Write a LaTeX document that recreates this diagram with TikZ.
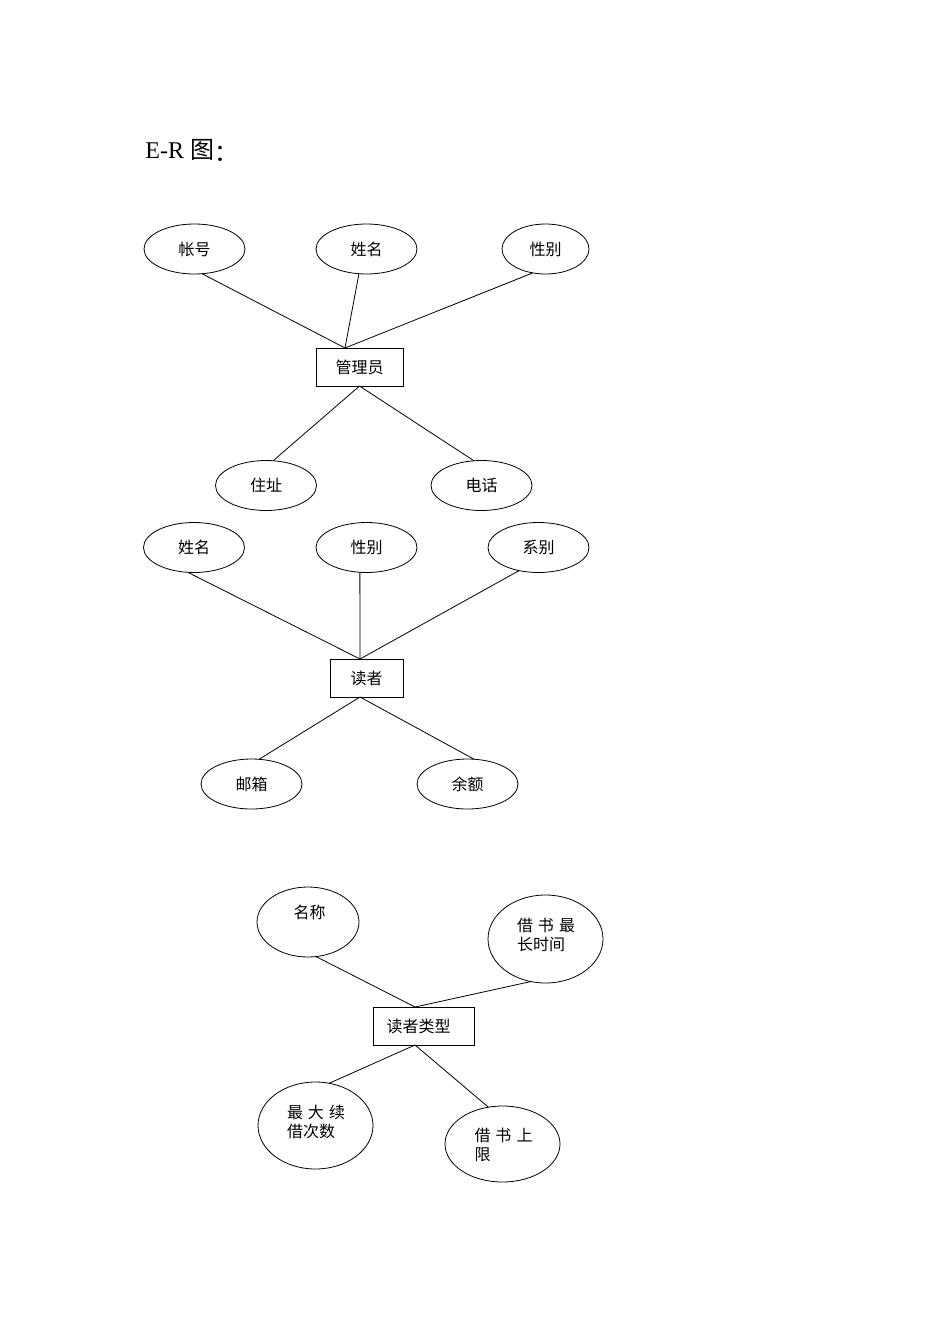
\documentclass[tikz,border=0pt]{standalone}
\usepackage{fontspec}
\setmainfont{Liberation Serif}
\newfontfamily\cjk{Noto Sans CJK SC}
\usetikzlibrary{shapes.geometric}
\begin{document}
\begin{tikzpicture}[x=1pt,y=-1pt,line width=0.8pt,
  cjkfont/.style={font=\cjk\fontsize{16}{19}\selectfont},
  attr/.style={ellipse,draw,inner sep=0pt,outer sep=0pt,cjkfont},
  smallattr/.style={attr,minimum width=101pt,minimum height=50pt},
  ent/.style={rectangle,draw,inner sep=0pt,outer sep=0pt,cjkfont,minimum height=38pt},
  txt/.style={inner sep=0pt,outer sep=0pt,cjkfont,align=left}]
\useasboundingbox (0,0) rectangle (950,1344);

% title
\node[anchor=base west,inner sep=0pt,font=\fontsize{24}{28}\selectfont] (title) at (145,158) {E-R {\cjk 图\raisebox{-3pt}{：}}};

% ---------- group 1 : 管理员 ----------
\node[smallattr] (g1zh) at (194.5,249) {帐号};
\node[smallattr] (g1xm) at (366.5,249) {姓名};
\node[attr,minimum width=87pt,minimum height=50pt] (g1xb) at (545.5,249) {性别};
\node[ent,minimum width=87pt] (admin) at (359.5,367) {管理员};
\coordinate (admintop) at (345,348);
\node[smallattr] (g1zz) at (266,485.5) {住址};
\node[smallattr] (g1dh) at (481.5,485.5) {电话};

\draw (g1zh.-73) -- (admintop);
\draw (g1xm.-107) -- (admintop);
\draw (g1xb.-118) -- (admintop);
\draw (admin.south) -- (g1zz.74);
\draw (admin.south) -- (g1dh.107);

% ---------- group 2 : 读者 ----------
\node[smallattr] (g2xm) at (194,547.5) {姓名};
\node[smallattr] (g2xb) at (366.5,547.5) {性别};
\node[smallattr] (g2xi) at (538.5,547.5) {系别};
\node[ent,minimum width=73pt] (reader) at (366.5,678) {读者};
\coordinate (readertop) at (360,659);
\coordinate (readerbot) at (360,697);
\node[smallattr] (g2yx) at (251.5,784) {邮箱};
\node[smallattr] (g2ye) at (467.5,784) {余额};

\draw (g2xm.-104) -- (readertop);
\draw (g2xb.-105) -- (readertop);
\draw (g2xi.-130) -- (readertop);
\draw (readerbot) -- (g2yx.73);
\draw (readerbot) -- (g2ye.75);

% ---------- group 3 : 读者类型 ----------
\node[attr,minimum width=102pt,minimum height=70pt] (g3mc) at (308,922) {};
\node[txt] (g3mct) at (309.5,912) {名称};
\node[attr,minimum width=115pt,minimum height=88pt] (g3jc) at (545.5,939) {};
\node[txt] (g3jct) at (546,934.5) {借\hspace{5pt}书\hspace{5pt}最\\长时间};
\node[ent,minimum width=101pt] (rtype) at (423.5,1026) {};
\node[txt] (rtypet) at (418.5,1026) {读者类型};
\coordinate (rtypetop) at (415,1007);
\coordinate (rtypebot) at (415,1045);
\node[attr,minimum width=115pt,minimum height=87pt] (g3zd) at (315.5,1125.5) {};
\node[txt] (g3zdt) at (316,1121.5) {最\hspace{5pt}大\hspace{5pt}续\\借次数};
\node[attr,minimum width=115pt,minimum height=76pt] (g3js) at (502.5,1144) {};
\node[txt] (g3jst) at (503.5,1144.5) {借\hspace{5pt}书\hspace{5pt}上\\限};

\draw (g3mc.-77) -- (rtypetop);
\draw (g3jc.-109) -- (rtypetop);
\draw (rtypebot) -- (g3zd.72);
\draw (rtypebot) -- (g3js.111);
\end{tikzpicture}
\end{document}
